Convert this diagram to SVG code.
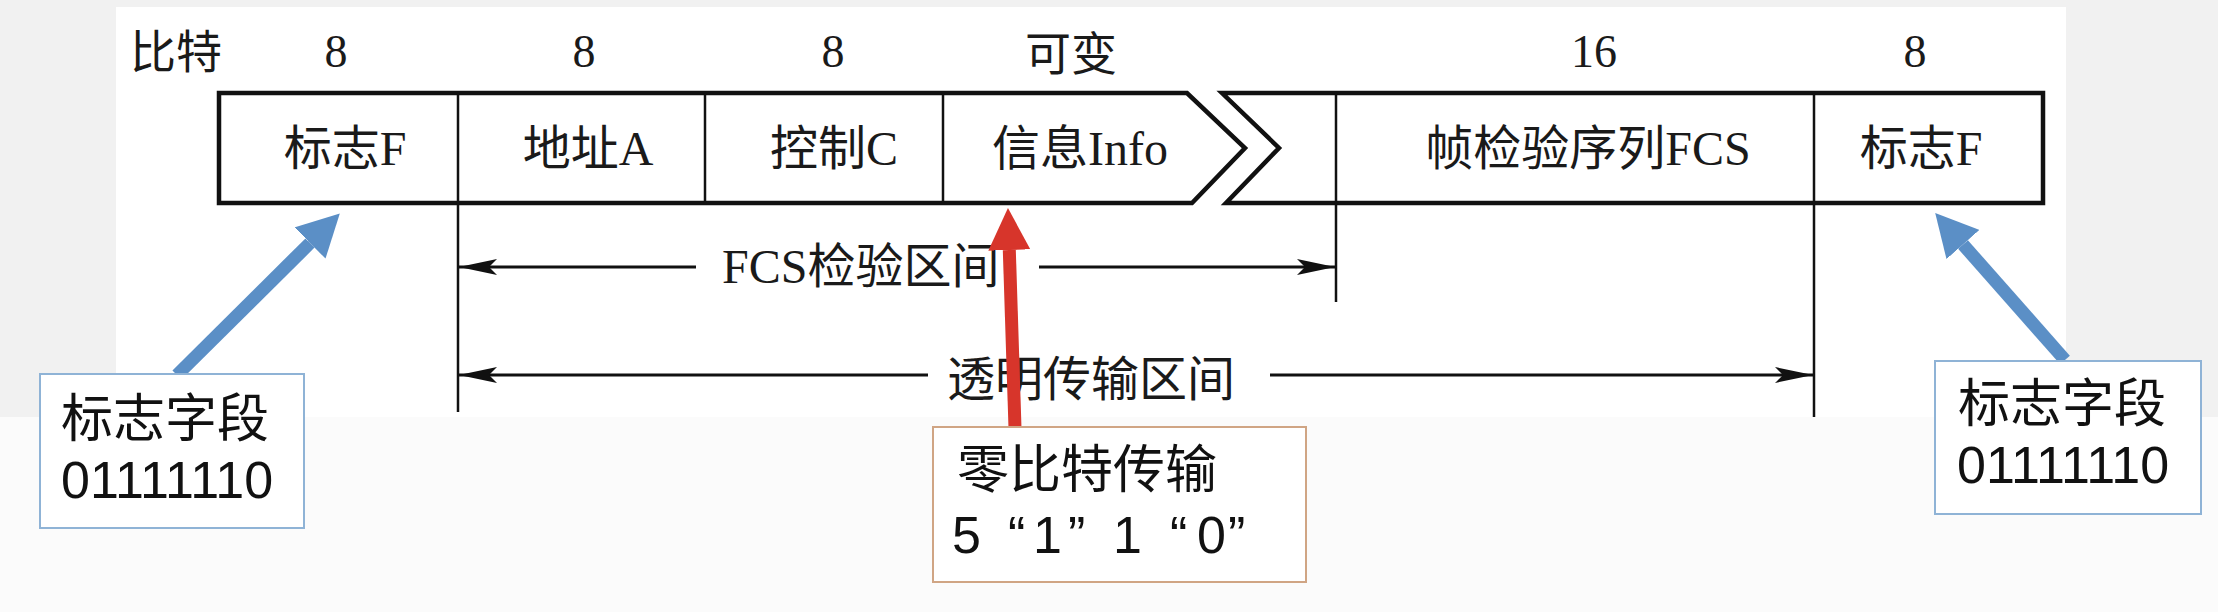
<svg xmlns="http://www.w3.org/2000/svg" width="2218" height="612" viewBox="0 0 2218 612">
  <style>
    .frame { fill: none; stroke: #111; stroke-width: 4.5; stroke-linejoin: miter; }
    .div { fill: none; stroke: #111; stroke-width: 2.5; }
    .serif { font-family: "Liberation Serif", "Noto Sans CJK SC", serif; font-size: 48px; fill: #1a1a1a; }
    .hdr { font-family: "Liberation Serif", "Noto Sans CJK SC", serif; font-size: 46px; fill: #1a1a1a; text-anchor: middle; }
    .cell { font-family: "Liberation Serif", "Noto Sans CJK SC", serif; font-size: 48px; fill: #1a1a1a; text-anchor: middle; }
    .note { font-family: "Liberation Sans", "Noto Sans CJK SC", sans-serif; font-size: 52px; fill: #111; }
    .dim { stroke: #111; stroke-width: 3; fill: none; }
  </style>
  <defs>
    <marker id="blk" markerUnits="userSpaceOnUse" viewBox="0 0 38 16" refX="38" refY="8" markerWidth="38" markerHeight="16" orient="auto">
      <path d="M0,0 L38,8 L0,16 L8,8 z" fill="#111"/>
    </marker>
    <marker id="blueHead" markerUnits="userSpaceOnUse" viewBox="0 0 42 44" refX="0" refY="22" markerWidth="42" markerHeight="44" orient="auto">
      <path d="M0,0 L42,22 L0,44 z" fill="#5b8fc6"/>
    </marker>
    <marker id="redHead" markerUnits="userSpaceOnUse" viewBox="0 0 42 42" refX="0" refY="21" markerWidth="42" markerHeight="42" orient="auto">
      <path d="M0,0 L42,21 L0,42 z" fill="#d7352b"/>
    </marker>
  </defs>

  <!-- background -->
  <rect x="0" y="0" width="2218" height="612" fill="#f1f1f1"/>
  <rect x="0" y="417" width="2218" height="195" fill="#fbfbfb"/>
  <rect x="116" y="7" width="1950" height="410" fill="#ffffff"/>

  <!-- header -->
  <g id="header">
    <text class="hdr" x="176" y="68">比特</text>
    <text class="hdr" x="336" y="67">8</text>
    <text class="hdr" x="584" y="67">8</text>
    <text class="hdr" x="833" y="67">8</text>
    <text class="hdr" x="1071" y="70">可变</text>
    <text class="hdr" x="1594" y="67">16</text>
    <text class="hdr" x="1915" y="67">8</text>
  </g>

  <!-- frame -->
  <g id="frame">
    <path class="frame" d="M1187,93 L219,93 L219,203 L1192,203 L1245,148 Z"/>
    <path class="frame" d="M1222,93 L2043,93 L2043,203 L1226,203 L1279,148 Z"/>
  </g>

  <g id="field-flag1">
    <text class="cell" x="345" y="165">标志F</text>
  </g>
  <g id="field-addr">
    <line class="div" x1="458" y1="93" x2="458" y2="412"/>
    <text class="cell" x="588" y="165">地址A</text>
  </g>
  <g id="field-ctrl">
    <line class="div" x1="705" y1="93" x2="705" y2="203"/>
    <text class="cell" x="834" y="165">控制C</text>
  </g>
  <g id="field-info">
    <line class="div" x1="943" y1="93" x2="943" y2="203"/>
    <text class="cell" x="1080" y="165">信息Info</text>
  </g>
  <g id="field-fcs">
    <line class="div" x1="1336" y1="93" x2="1336" y2="302"/>
    <text class="cell" x="1588" y="165">帧检验序列FCS</text>
  </g>
  <g id="field-flag2">
    <line class="div" x1="1814" y1="93" x2="1814" y2="417"/>
    <text class="cell" x="1921" y="165">标志F</text>
  </g>

  <!-- connectors -->
  <g id="connectors">
    <line class="dim" x1="696" y1="267" x2="459" y2="267" marker-end="url(#blk)"/>
    <line class="dim" x1="1039" y1="267" x2="1335" y2="267" marker-end="url(#blk)"/>
    <line class="dim" x1="928" y1="375" x2="459" y2="375" marker-end="url(#blk)"/>
    <line class="dim" x1="1270" y1="375" x2="1813" y2="375" marker-end="url(#blk)"/>
    <line x1="177" y1="375" x2="310" y2="243" stroke="#5b8fc6" stroke-width="13" marker-end="url(#blueHead)"/>
    <line x1="2065" y1="360" x2="1963" y2="244.5" stroke="#5b8fc6" stroke-width="13" marker-end="url(#blueHead)"/>
  </g>

  <g id="label-fcs-range">
    <text class="serif" x="722" y="283">FCS检验区间</text>
  </g>
  <g id="label-transparent">
    <text class="serif" x="947" y="396">透明传输区间</text>
  </g>

  <g id="red-arrow">
    <line x1="1015" y1="428" x2="1009.3" y2="250" stroke="#d7352b" stroke-width="13" marker-end="url(#redHead)"/>
  </g>

  <g id="note-left">
    <rect x="40" y="374" width="264" height="154" fill="#ffffff" stroke="#8fb3d6" stroke-width="2"/>
    <text class="note" x="61" y="437">标志字段</text>
    <text class="note" x="61" y="498">01111110</text>
  </g>
  <g id="note-zero">
    <rect x="933" y="427" width="373" height="155" fill="#ffffff" stroke="#d0a584" stroke-width="2"/>
    <text class="note" x="957" y="488">零比特传输</text>
    <text class="note" x="952 1008 1033 1068 1113 1170 1197 1228" y="553">5“1”1“0”</text>
  </g>
  <g id="note-right">
    <rect x="1935" y="361" width="266" height="153" fill="#ffffff" stroke="#8fb3d6" stroke-width="2"/>
    <text class="note" x="1958" y="422">标志字段</text>
    <text class="note" x="1957" y="483">01111110</text>
  </g>
</svg>
